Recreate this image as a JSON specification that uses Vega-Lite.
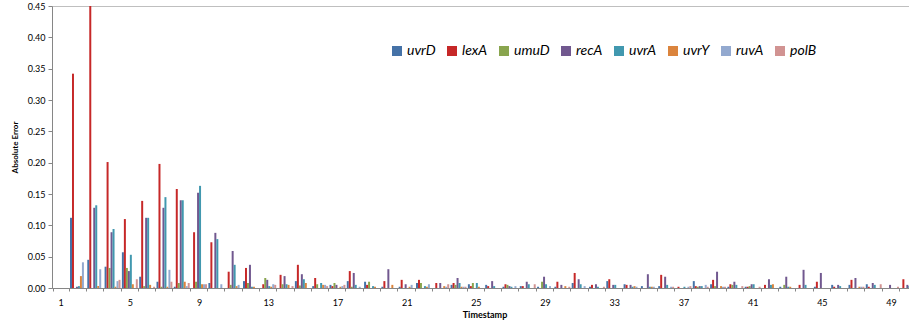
{
  "$schema": "https://vega.github.io/schema/vega-lite/v6.json",
  "autosize": {"type": "none"},
  "padding": {"left": 52, "top": 6, "right": -8, "bottom": 38},
  "width": 865,
  "height": 282,
  "config": {
    "font": "Lato",
    "view": {"stroke": "#BFBFBF", "strokeWidth": 1},
    "axis": {"domainColor": "#868686", "tickColor": "#868686", "labelColor": "#000000", "titleColor": "#000000", "grid": false}
  },
  "data": {"values": [
    {"t":2,"g":"uvrD","v":0.112},{"t":2,"g":"lexA","v":0.342},{"t":2,"g":"recA","v":0.002},{"t":2,"g":"uvrA","v":0.003},{"t":2,"g":"uvrY","v":0.019},{"t":2,"g":"ruvA","v":0.041},
    {"t":3,"g":"uvrD","v":0.045},{"t":3,"g":"lexA","v":0.45},{"t":3,"g":"recA","v":0.128},{"t":3,"g":"uvrA","v":0.132},{"t":3,"g":"uvrY","v":0.003},{"t":3,"g":"ruvA","v":0.030},
    {"t":4,"g":"uvrD","v":0.034},{"t":4,"g":"lexA","v":0.201},{"t":4,"g":"umuD","v":0.032},{"t":4,"g":"recA","v":0.089},{"t":4,"g":"uvrA","v":0.094},{"t":4,"g":"uvrY","v":0.002},{"t":4,"g":"ruvA","v":0.011},{"t":4,"g":"polB","v":0.013},
    {"t":5,"g":"uvrD","v":0.057},{"t":5,"g":"lexA","v":0.110},{"t":5,"g":"umuD","v":0.032},{"t":5,"g":"recA","v":0.027},{"t":5,"g":"uvrA","v":0.053},{"t":5,"g":"uvrY","v":0.006},{"t":5,"g":"polB","v":0.014},
    {"t":6,"g":"uvrD","v":0.018},{"t":6,"g":"lexA","v":0.139},{"t":6,"g":"umuD","v":0.003},{"t":6,"g":"recA","v":0.112},{"t":6,"g":"uvrA","v":0.112},{"t":6,"g":"uvrY","v":0.005},{"t":6,"g":"polB","v":0.002},
    {"t":7,"g":"uvrD","v":0.010},{"t":7,"g":"lexA","v":0.198},{"t":7,"g":"umuD","v":0.002},{"t":7,"g":"recA","v":0.128},{"t":7,"g":"uvrA","v":0.145},{"t":7,"g":"uvrY","v":0.002},{"t":7,"g":"ruvA","v":0.029},{"t":7,"g":"polB","v":0.010},
    {"t":8,"g":"uvrD","v":0.002},{"t":8,"g":"lexA","v":0.158},{"t":8,"g":"umuD","v":0.008},{"t":8,"g":"recA","v":0.140},{"t":8,"g":"uvrA","v":0.140},{"t":8,"g":"uvrY","v":0.010},{"t":8,"g":"ruvA","v":0.003},{"t":8,"g":"polB","v":0.008},
    {"t":9,"g":"lexA","v":0.089},{"t":9,"g":"umuD","v":0.010},{"t":9,"g":"recA","v":0.152},{"t":9,"g":"uvrA","v":0.163},{"t":9,"g":"uvrY","v":0.006},{"t":9,"g":"ruvA","v":0.006},{"t":9,"g":"polB","v":0.006},
    {"t":10,"g":"uvrD","v":0.008},{"t":10,"g":"lexA","v":0.073},{"t":10,"g":"recA","v":0.088},{"t":10,"g":"uvrA","v":0.078},{"t":10,"g":"ruvA","v":0.006},
    {"t":11,"g":"lexA","v":0.026},{"t":11,"g":"umuD","v":0.005},{"t":11,"g":"recA","v":0.059},{"t":11,"g":"uvrA","v":0.037},{"t":11,"g":"uvrY","v":0.003},{"t":11,"g":"ruvA","v":0.005},
    {"t":12,"g":"uvrD","v":0.011},{"t":12,"g":"lexA","v":0.032},{"t":12,"g":"umuD","v":0.008},{"t":12,"g":"recA","v":0.037},{"t":12,"g":"uvrA","v":0.002},{"t":12,"g":"uvrY","v":0.002},
    {"t":13,"g":"lexA","v":0.006},{"t":13,"g":"umuD","v":0.016},{"t":13,"g":"recA","v":0.013},{"t":13,"g":"uvrA","v":0.003},{"t":13,"g":"uvrY","v":0.002},{"t":13,"g":"ruvA","v":0.006},{"t":13,"g":"polB","v":0.005},
    {"t":14,"g":"lexA","v":0.021},{"t":14,"g":"umuD","v":0.006},{"t":14,"g":"recA","v":0.019},{"t":14,"g":"uvrA","v":0.006},{"t":14,"g":"uvrY","v":0.005},{"t":14,"g":"polB","v":0.003},
    {"t":15,"g":"uvrD","v":0.011},{"t":15,"g":"lexA","v":0.037},{"t":15,"g":"umuD","v":0.004},{"t":15,"g":"recA","v":0.022},{"t":15,"g":"uvrA","v":0.014},{"t":15,"g":"uvrY","v":0.008},
    {"t":16,"g":"uvrD","v":0.003},{"t":16,"g":"lexA","v":0.016},{"t":16,"g":"umuD","v":0.006},{"t":16,"g":"uvrA","v":0.008},{"t":16,"g":"uvrY","v":0.005},{"t":16,"g":"ruvA","v":0.005},{"t":16,"g":"polB","v":0.003},
    {"t":17,"g":"uvrD","v":0.005},{"t":17,"g":"lexA","v":0.003},{"t":17,"g":"umuD","v":0.008},{"t":17,"g":"recA","v":0.005},{"t":17,"g":"uvrY","v":0.002},{"t":17,"g":"ruvA","v":0.003},{"t":17,"g":"polB","v":0.005},
    {"t":18,"g":"uvrD","v":0.011},{"t":18,"g":"lexA","v":0.027},{"t":18,"g":"umuD","v":0.002},{"t":18,"g":"recA","v":0.024},{"t":18,"g":"uvrA","v":0.005},{"t":18,"g":"ruvA","v":0.002},
    {"t":19,"g":"uvrD","v":0.010},{"t":19,"g":"lexA","v":0.005},{"t":19,"g":"umuD","v":0.010},{"t":19,"g":"uvrA","v":0.003},{"t":19,"g":"uvrY","v":0.002},
    {"t":20,"g":"uvrD","v":0.002},{"t":20,"g":"lexA","v":0.011},{"t":20,"g":"recA","v":0.030},{"t":20,"g":"uvrY","v":0.005},
    {"t":21,"g":"uvrD","v":0.002},{"t":21,"g":"lexA","v":0.013},{"t":21,"g":"recA","v":0.006},{"t":21,"g":"uvrY","v":0.002},{"t":21,"g":"ruvA","v":0.005},
    {"t":22,"g":"uvrD","v":0.008},{"t":22,"g":"lexA","v":0.013},{"t":22,"g":"umuD","v":0.008},{"t":22,"g":"uvrA","v":0.003},{"t":22,"g":"uvrY","v":0.002},{"t":22,"g":"ruvA","v":0.006},
    {"t":23,"g":"lexA","v":0.008},{"t":23,"g":"recA","v":0.008},{"t":23,"g":"uvrY","v":0.003},{"t":23,"g":"ruvA","v":0.002},{"t":23,"g":"polB","v":0.006},
    {"t":24,"g":"uvrD","v":0.005},{"t":24,"g":"lexA","v":0.008},{"t":24,"g":"umuD","v":0.005},{"t":24,"g":"recA","v":0.016},{"t":24,"g":"uvrA","v":0.008},{"t":24,"g":"uvrY","v":0.002},{"t":24,"g":"ruvA","v":0.002},{"t":24,"g":"polB","v":0.002},
    {"t":25,"g":"uvrD","v":0.006},{"t":25,"g":"lexA","v":0.003},{"t":25,"g":"umuD","v":0.008},{"t":25,"g":"uvrA","v":0.008},{"t":25,"g":"uvrY","v":0.002},
    {"t":26,"g":"uvrD","v":0.005},{"t":26,"g":"lexA","v":0.003},{"t":26,"g":"recA","v":0.011},{"t":26,"g":"uvrA","v":0.003},
    {"t":27,"g":"uvrD","v":0.002},{"t":27,"g":"lexA","v":0.006},{"t":27,"g":"umuD","v":0.005},{"t":27,"g":"recA","v":0.003},{"t":27,"g":"uvrA","v":0.002},{"t":27,"g":"ruvA","v":0.003},
    {"t":28,"g":"uvrD","v":0.003},{"t":28,"g":"lexA","v":0.003},{"t":28,"g":"recA","v":0.010},{"t":28,"g":"uvrA","v":0.006},{"t":28,"g":"polB","v":0.006},
    {"t":29,"g":"uvrD","v":0.002},{"t":29,"g":"umuD","v":0.010},{"t":29,"g":"recA","v":0.018},{"t":29,"g":"uvrA","v":0.006},{"t":29,"g":"ruvA","v":0.003},
    {"t":30,"g":"uvrD","v":0.002},{"t":30,"g":"lexA","v":0.010},{"t":30,"g":"recA","v":0.005},{"t":30,"g":"uvrY","v":0.003},{"t":30,"g":"polB","v":0.002},
    {"t":31,"g":"uvrD","v":0.008},{"t":31,"g":"lexA","v":0.024},{"t":31,"g":"recA","v":0.014},{"t":31,"g":"uvrA","v":0.006},{"t":31,"g":"ruvA","v":0.003},
    {"t":32,"g":"uvrD","v":0.002},{"t":32,"g":"lexA","v":0.005},{"t":32,"g":"recA","v":0.006},{"t":32,"g":"uvrA","v":0.002},{"t":32,"g":"polB","v":0.002},
    {"t":33,"g":"uvrD","v":0.011},{"t":33,"g":"lexA","v":0.014},{"t":33,"g":"recA","v":0.005},{"t":33,"g":"uvrA","v":0.005},
    {"t":34,"g":"uvrD","v":0.006},{"t":34,"g":"lexA","v":0.005},{"t":34,"g":"recA","v":0.005},{"t":34,"g":"uvrA","v":0.002},{"t":34,"g":"uvrY","v":0.003},{"t":34,"g":"ruvA","v":0.002},
    {"t":35,"g":"uvrD","v":0.003},{"t":35,"g":"recA","v":0.022},{"t":35,"g":"uvrA","v":0.002},{"t":35,"g":"uvrY","v":0.002},{"t":35,"g":"ruvA","v":0.002},
    {"t":36,"g":"uvrD","v":0.003},{"t":36,"g":"lexA","v":0.021},{"t":36,"g":"recA","v":0.018},{"t":36,"g":"uvrA","v":0.005},{"t":36,"g":"ruvA","v":0.002},{"t":36,"g":"polB","v":0.002},
    {"t":37,"g":"lexA","v":0.002},{"t":37,"g":"uvrA","v":0.002},{"t":37,"g":"ruvA","v":0.002},{"t":37,"g":"polB","v":0.003},
    {"t":38,"g":"uvrD","v":0.011},{"t":38,"g":"lexA","v":0.003},{"t":38,"g":"umuD","v":0.002},{"t":38,"g":"recA","v":0.003},{"t":38,"g":"uvrA","v":0.003},{"t":38,"g":"ruvA","v":0.005},{"t":38,"g":"polB","v":0.002},
    {"t":39,"g":"uvrD","v":0.006},{"t":39,"g":"lexA","v":0.013},{"t":39,"g":"umuD","v":0.003},{"t":39,"g":"recA","v":0.026},{"t":39,"g":"uvrY","v":0.003},{"t":39,"g":"ruvA","v":0.002},{"t":39,"g":"polB","v":0.002},
    {"t":40,"g":"uvrD","v":0.002},{"t":40,"g":"lexA","v":0.006},{"t":40,"g":"umuD","v":0.005},{"t":40,"g":"recA","v":0.010},{"t":40,"g":"uvrA","v":0.005},{"t":40,"g":"polB","v":0.003},
    {"t":41,"g":"uvrD","v":0.002},{"t":41,"g":"lexA","v":0.002},{"t":41,"g":"umuD","v":0.003},{"t":41,"g":"recA","v":0.006},{"t":41,"g":"uvrA","v":0.006},{"t":41,"g":"polB","v":0.002},
    {"t":42,"g":"lexA","v":0.005},{"t":42,"g":"recA","v":0.014},{"t":42,"g":"uvrA","v":0.005},{"t":42,"g":"uvrY","v":0.006},
    {"t":43,"g":"uvrD","v":0.002},{"t":43,"g":"umuD","v":0.005},{"t":43,"g":"recA","v":0.018},{"t":43,"g":"uvrA","v":0.002},{"t":43,"g":"uvrY","v":0.002},
    {"t":44,"g":"lexA","v":0.005},{"t":44,"g":"recA","v":0.029},{"t":44,"g":"uvrA","v":0.005},
    {"t":45,"g":"uvrD","v":0.002},{"t":45,"g":"lexA","v":0.010},{"t":45,"g":"recA","v":0.024},
    {"t":46,"g":"uvrD","v":0.005},{"t":46,"g":"lexA","v":0.002},{"t":46,"g":"recA","v":0.005},{"t":46,"g":"uvrA","v":0.003},
    {"t":47,"g":"uvrD","v":0.005},{"t":47,"g":"lexA","v":0.013},{"t":47,"g":"recA","v":0.016},{"t":47,"g":"uvrY","v":0.002},{"t":47,"g":"ruvA","v":0.002},{"t":47,"g":"polB","v":0.002},
    {"t":48,"g":"uvrD","v":0.006},{"t":48,"g":"lexA","v":0.002},{"t":48,"g":"recA","v":0.008},{"t":48,"g":"uvrA","v":0.005},{"t":48,"g":"polB","v":0.006},
    {"t":49,"g":"recA","v":0.005},{"t":49,"g":"polB","v":0.002},
    {"t":50,"g":"lexA","v":0.014},{"t":50,"g":"recA","v":0.005},{"t":50,"g":"uvrA","v":0.003}
  ]},
  "mark": {"type": "bar", "clip": true},
  "encoding": {
    "x": {
      "field": "t", "type": "ordinal",
      "scale": {"domain": [1,2,3,4,5,6,7,8,9,10,11,12,13,14,15,16,17,18,19,20,21,22,23,24,25,26,27,28,29,30,31,32,33,34,35,36,37,38,39,40,41,42,43,44,45,46,47,48,49,50], "paddingInner": 0.08, "paddingOuter": 0.04},
      "axis": {
        "title": "Timestamp", "titleFontSize": 9, "titleFontWeight": "bold", "titlePadding": 3,
        "labelAngle": 0, "labelFontSize": 9, "labelPadding": 7,
        "labelExpr": "(datum.value - 1) % 4 == 0 ? datum.label : ''",
        "tickBand": "extent", "tickSize": 3
      }
    },
    "xOffset": {"field": "g", "type": "nominal", "scale": {"domain": ["uvrD","lexA","umuD","recA","uvrA","uvrY","ruvA","polB"]}},
    "y": {
      "field": "v", "type": "quantitative",
      "scale": {"domain": [0, 0.45], "nice": false},
      "axis": {
        "title": "Absolute Error", "titleFontSize": 8, "titleFontWeight": "bold", "titlePadding": 8,
        "values": [0, 0.05, 0.1, 0.15, 0.2, 0.25, 0.3, 0.35, 0.4, 0.45], "format": ".2f",
        "labelFontSize": 9, "labelPadding": 3, "tickSize": 4
      }
    },
    "color": {
      "field": "g", "type": "nominal",
      "scale": {"domain": ["uvrD","lexA","umuD","recA","uvrA","uvrY","ruvA","polB"],
                "range": ["#4572A7","#C62828","#89A54E","#71588F","#4198AF","#DB843D","#93A9CF","#D19392"]},
      "legend": {
        "title": null, "orient": "none", "legendX": 338, "legendY": 38, "direction": "horizontal", "columns": 8,
        "symbolType": "square", "symbolSize": 100, "symbolStrokeWidth": 0, "symbolOpacity": 1,
        "labelFontSize": 14, "labelFontStyle": "italic", "labelColor": "#000000", "labelOffset": 3,
        "columnPadding": 9, "padding": 0
      }
    }
  }
}
